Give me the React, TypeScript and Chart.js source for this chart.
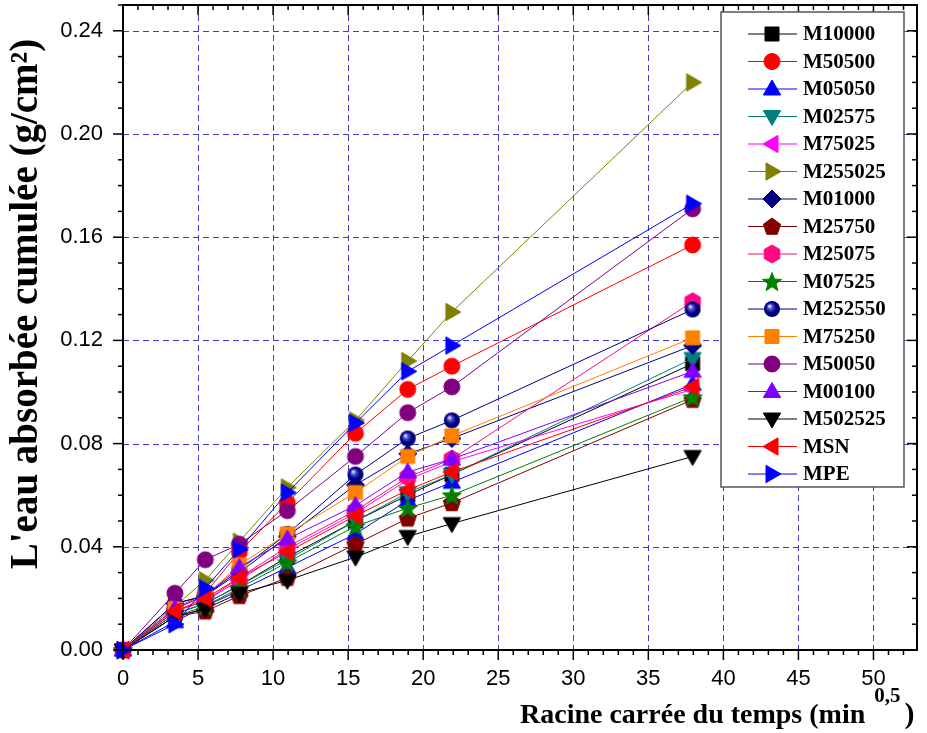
import React, { useEffect, useRef } from 'react';
import { Chart, registerables } from 'chart.js';

Chart.register(...registerables);

// x = racine carrée du temps (min^0.5)
const xValues = [0, 3.46, 5.48, 7.75, 10.95, 15.49, 18.97, 21.91, 37.95];

const m10000 = [0, 0.014, 0.018, 0.025, 0.036, 0.050, 0.060, 0.068, 0.111];
const m50500 = [0, 0.016, 0.022, 0.038, 0.057, 0.084, 0.101, 0.110, 0.157];
const m05050 = [0, 0.011, 0.017, 0.023, 0.032, 0.045, 0.058, 0.065, 0.103];
const m02575 = [0, 0.014, 0.018, 0.025, 0.035, 0.050, 0.061, 0.068, 0.113];
const m75025 = [0, 0.015, 0.019, 0.027, 0.039, 0.053, 0.066, 0.073, 0.101];
const m255025 = [0, 0.017, 0.027, 0.042, 0.063, 0.089, 0.112, 0.131, 0.220];
const m01000 = [0, 0.018, 0.021, 0.030, 0.044, 0.064, 0.076, 0.082, 0.118];
const m25750 = [0, 0.013, 0.015, 0.021, 0.028, 0.041, 0.051, 0.057, 0.097];
const m25075 = [0, 0.015, 0.019, 0.028, 0.040, 0.054, 0.067, 0.074, 0.135];
const m07525 = [0, 0.013, 0.017, 0.024, 0.034, 0.048, 0.055, 0.060, 0.098];
const m252550 = [0, 0.018, 0.021, 0.031, 0.045, 0.068, 0.082, 0.089, 0.132];
const m75250 = [0, 0.016, 0.021, 0.033, 0.045, 0.061, 0.075, 0.083, 0.121];
const m50050 = [0, 0.022, 0.035, 0.041, 0.054, 0.075, 0.092, 0.102, 0.171];
const m00100 = [0, 0.016, 0.021, 0.032, 0.043, 0.056, 0.069, 0.074, 0.108];
const m502525 = [0, 0.013, 0.016, 0.022, 0.027, 0.036, 0.044, 0.049, 0.075];
const msn = [0, 0.015, 0.020, 0.028, 0.038, 0.052, 0.062, 0.069, 0.102];
const mpe = [0, 0.010, 0.024, 0.039, 0.061, 0.088, 0.108, 0.118, 0.173];

const seriesNames = [
  'M10000', 'M50500', 'M05050', 'M02575', 'M75025', 'M255025', 'M01000', 'M25750',
  'M25075', 'M07525', 'M252550', 'M75250', 'M50050', 'M00100', 'M502525', 'MSN', 'MPE',
];
const seriesValues = [
  m10000, m50500, m05050, m02575, m75025, m255025, m01000, m25750,
  m25075, m07525, m252550, m75250, m50050, m00100, m502525, msn, mpe,
];
const seriesColors = [
  '#000000', '#FF0000', '#0000FF', '#008080', '#FF00FF', '#808000', '#000080', '#800000',
  '#FF0A82', '#008000', '#000080', '#FF8000', '#800080', '#8000FF', '#000000', '#FF0000', '#0000FF',
];
const seriesShapes = [
  'square', 'circle', 'triUp', 'triDown', 'triLeft', 'triRight', 'diamond', 'pentagon',
  'hexagon', 'star', 'sphere', 'square', 'circle', 'triUp', 'triDown', 'triLeft', 'triRight',
];

const xTitle = 'Racine carrée du temps (min';
const xTitleSup = '0,5';
const yTitle = "L'eau absorbée cumulée (g/cm²)";

const X_MIN = 0, X_MAX = 52.9, X_MAJOR = 5, X_MINOR = 1;
const Y_MIN = 0, Y_MAX = 0.25, Y_MAJOR = 0.04, Y_MINOR = 0.01;

// canvas is shifted up by OFF px on the page
const OFF = 5;

function polygon(ctx: CanvasRenderingContext2D, cx: number, cy: number, r: number, n: number, start: number) {
  ctx.beginPath();
  for (let k = 0; k < n; k++) {
    const a = start + (k * 2 * Math.PI) / n;
    const px = cx + r * Math.cos(a);
    const py = cy + r * Math.sin(a);
    if (k === 0) ctx.moveTo(px, py); else ctx.lineTo(px, py);
  }
  ctx.closePath();
}

function drawShape(ctx: CanvasRenderingContext2D, shape: string, color: string, cx: number, cy: number) {
  ctx.save();
  ctx.fillStyle = color;
  ctx.strokeStyle = color;
  ctx.lineWidth = 1;
  switch (shape) {
    case 'square':
      ctx.beginPath();
      ctx.rect(cx - 7, cy - 7, 14, 14);
      break;
    case 'circle':
      ctx.beginPath();
      ctx.arc(cx, cy, 8, 0, Math.PI * 2);
      break;
    case 'triUp':
      polygon(ctx, cx, cy + 1, 10, 3, -Math.PI / 2);
      break;
    case 'triDown':
      polygon(ctx, cx, cy - 1, 10, 3, Math.PI / 2);
      break;
    case 'triLeft':
      polygon(ctx, cx + 1, cy, 10, 3, Math.PI);
      break;
    case 'triRight':
      polygon(ctx, cx - 1, cy, 10, 3, 0);
      break;
    case 'diamond':
      polygon(ctx, cx, cy, 9, 4, -Math.PI / 2);
      break;
    case 'pentagon':
      polygon(ctx, cx, cy + 0.5, 9, 5, -Math.PI / 2);
      break;
    case 'hexagon':
      polygon(ctx, cx, cy, 9, 6, -Math.PI / 2);
      break;
    case 'star': {
      ctx.beginPath();
      for (let k = 0; k < 10; k++) {
        const a = -Math.PI / 2 + (k * Math.PI) / 5;
        const r = k % 2 === 0 ? 10 : 4.2;
        const px = cx + r * Math.cos(a);
        const py = cy + 1 + r * Math.sin(a);
        if (k === 0) ctx.moveTo(px, py); else ctx.lineTo(px, py);
      }
      ctx.closePath();
      break;
    }
    case 'sphere': {
      const g = ctx.createRadialGradient(cx - 2.5, cy - 3, 0.5, cx, cy, 8.5);
      g.addColorStop(0, '#e8e8ff');
      g.addColorStop(0.25, '#5050c8');
      g.addColorStop(0.6, '#000090');
      g.addColorStop(1, '#000050');
      ctx.fillStyle = g;
      ctx.beginPath();
      ctx.arc(cx, cy, 8, 0, Math.PI * 2);
      break;
    }
    default:
      ctx.beginPath();
      ctx.arc(cx, cy, 8, 0, Math.PI * 2);
  }
  ctx.fill();
  if (shape !== 'sphere') ctx.stroke();
  ctx.restore();
}

function makeMarker(shape: string, color: string): HTMLCanvasElement {
  const c = document.createElement('canvas');
  c.width = 24;
  c.height = 24;
  const ctx = c.getContext('2d') as CanvasRenderingContext2D;
  drawShape(ctx, shape, color, 12, 12);
  return c;
}

const isMultiple = (v: number, step: number) => Math.abs(v / step - Math.round(v / step)) < 1e-6;

const decorPlugin = {
  id: 'decor',
  beforeDatasetsDraw(chart: any) {
    const { ctx, chartArea: a, scales } = chart;
    const xs = scales.x, ys = scales.y;
    ctx.save();
    ctx.strokeStyle = 'rgb(60,60,200)';
    ctx.lineWidth = 1;
    ctx.setLineDash([6, 4]);
    for (let v = X_MAJOR; v <= X_MAX + 1e-9; v += X_MAJOR) {
      const px = Math.round(xs.getPixelForValue(v)) + 0.5;
      ctx.beginPath(); ctx.moveTo(px, a.top); ctx.lineTo(px, a.bottom); ctx.stroke();
    }
    for (let i = 1; i * Y_MAJOR <= Y_MAX + 1e-9; i++) {
      const py = Math.round(ys.getPixelForValue(i * Y_MAJOR)) + 0.5;
      ctx.beginPath(); ctx.moveTo(a.left, py); ctx.lineTo(a.right, py); ctx.stroke();
    }
    ctx.restore();
  },
  afterDraw(chart: any) {
    const { ctx, chartArea: a, scales } = chart;
    const xs = scales.x, ys = scales.y;
    ctx.save();
    // frame
    ctx.strokeStyle = '#000';
    ctx.lineWidth = 2;
    ctx.setLineDash([]);
    ctx.strokeRect(a.left, a.top, a.right - a.left, a.bottom - a.top);
    // ticks
    ctx.lineWidth = 1.5;
    const nx = Math.round((X_MAX - X_MIN) / X_MINOR);
    for (let i = 0; i <= nx; i++) {
      const v = X_MIN + i * X_MINOR;
      if (v > X_MAX + 1e-9) break;
      const major = isMultiple(v, X_MAJOR);
      const len = major ? 10 : 5;
      const px = xs.getPixelForValue(v);
      ctx.beginPath(); ctx.moveTo(px, a.bottom); ctx.lineTo(px, a.bottom + len); ctx.stroke();
      ctx.beginPath(); ctx.moveTo(px, a.top); ctx.lineTo(px, a.top + len); ctx.stroke();
    }
    const ny = Math.round((Y_MAX - Y_MIN) / Y_MINOR);
    for (let i = 0; i <= ny; i++) {
      const v = Y_MIN + i * Y_MINOR;
      const major = isMultiple(v, Y_MAJOR);
      const len = major ? 10 : 5;
      const py = ys.getPixelForValue(v);
      ctx.beginPath(); ctx.moveTo(a.left, py); ctx.lineTo(a.left - len, py); ctx.stroke();
      ctx.beginPath(); ctx.moveTo(a.right, py); ctx.lineTo(a.right - len, py); ctx.stroke();
    }
    // y title
    ctx.fillStyle = '#000';
    ctx.save();
    ctx.translate(37, 304 + OFF);
    ctx.rotate(-Math.PI / 2);
    ctx.font = 'bold 39px "Liberation Serif", "Times New Roman", serif';
    ctx.textAlign = 'center';
    ctx.textBaseline = 'alphabetic';
    ctx.fillText(yTitle, 0, 0);
    ctx.restore();
    // x title
    ctx.font = 'bold 28px "Liberation Serif", "Times New Roman", serif';
    ctx.textAlign = 'left';
    ctx.textBaseline = 'alphabetic';
    let tx = 520;
    const base = 723 + OFF;
    ctx.fillText(xTitle, tx, base);
    tx += ctx.measureText(xTitle).width + 9;
    ctx.font = 'bold 21px "Liberation Serif", "Times New Roman", serif';
    ctx.fillText(xTitleSup, tx, base - 21);
    tx += ctx.measureText(xTitleSup).width + 4;
    ctx.font = 'bold 30px "Liberation Serif", "Times New Roman", serif';
    ctx.fillText(')', tx, base);
    // legend
    const lx0 = 721, lx1 = 904, ly0 = 12 + OFF, ly1 = 487 + OFF;
    ctx.fillStyle = '#fff';
    ctx.fillRect(lx0, ly0, lx1 - lx0, ly1 - ly0);
    ctx.strokeStyle = '#555';
    ctx.lineWidth = 1.5;
    ctx.strokeRect(lx0, ly0, lx1 - lx0, ly1 - ly0);
    ctx.font = 'bold 21px "Liberation Serif", "Times New Roman", serif';
    ctx.textBaseline = 'middle';
    ctx.textAlign = 'left';
    seriesNames.forEach((name, i) => {
      const cy = 34 + OFF + i * 27.5;
      ctx.strokeStyle = seriesColors[i];
      ctx.lineWidth = 1;
      ctx.beginPath(); ctx.moveTo(748, cy); ctx.lineTo(797, cy); ctx.stroke();
      drawShape(ctx, seriesShapes[i], seriesColors[i], 772, cy);
      ctx.fillStyle = '#000';
      ctx.fillText(name, 803, cy + 1);
    });
    ctx.restore();
  },
};

export default function App() {
  const ref = useRef<HTMLCanvasElement | null>(null);
  useEffect(() => {
    if (!ref.current) return;
    const datasets = seriesNames.map((name, i) => {
      const marker = makeMarker(seriesShapes[i], seriesColors[i]);
      return {
        label: name,
        data: xValues.map((x, k) => ({ x, y: seriesValues[i][k] })),
        borderColor: seriesColors[i],
        backgroundColor: seriesColors[i],
        borderWidth: 1,
        pointStyle: marker,
        pointRadius: 9,
        pointHoverRadius: 9,
        showLine: true,
        tension: 0,
        clip: false as any,
        order: -i,
      };
    });
    const chart = new Chart(ref.current, {
      type: 'scatter',
      data: { datasets },
      options: {
        animation: false,
        responsive: false,
        layout: { padding: { top: 5, right: 10, left: 0, bottom: 0 } },
        plugins: { legend: { display: false }, tooltip: { enabled: false } },
        scales: {
          x: {
            type: 'linear',
            min: X_MIN,
            max: X_MAX,
            afterFit: (s: any) => { s.height = 83; s.paddingLeft = 0; s.paddingRight = 0; },
            grid: { display: false, drawTicks: false },
            border: { display: false },
            ticks: {
              stepSize: X_MAJOR,
              includeBounds: false,
              padding: 16,
              color: '#000',
              autoSkip: false,
              maxRotation: 0,
              font: { family: '"Liberation Sans", Arial, sans-serif', size: 22 },
              callback: (v: any) => (isMultiple(Number(v), X_MAJOR) ? String(Math.round(Number(v))) : ''),
            },
          },
          y: {
            type: 'linear',
            min: Y_MIN,
            max: Y_MAX,
            afterFit: (s: any) => { s.width = 123; s.paddingTop = 0; s.paddingBottom = 0; },
            grid: { display: false, drawTicks: false },
            border: { display: false },
            ticks: {
              stepSize: Y_MAJOR,
              includeBounds: false,
              padding: 20,
              color: '#000',
              autoSkip: false,
              font: { family: '"Liberation Sans", Arial, sans-serif', size: 22 },
              callback: (v: any) => (isMultiple(Number(v), Y_MAJOR) ? Number(v).toFixed(2) : ''),
            },
          },
        },
      },
      plugins: [decorPlugin],
    } as any);
    return () => chart.destroy();
  }, []);
  return (
    <div style={{ position: 'absolute', left: 0, top: 0, width: 927, height: 733, overflow: 'hidden', background: '#fff' }}>
      <canvas ref={ref} width={927} height={733 + OFF} style={{ display: 'block', position: 'absolute', left: 0, top: -OFF }} />
    </div>
  );
}
